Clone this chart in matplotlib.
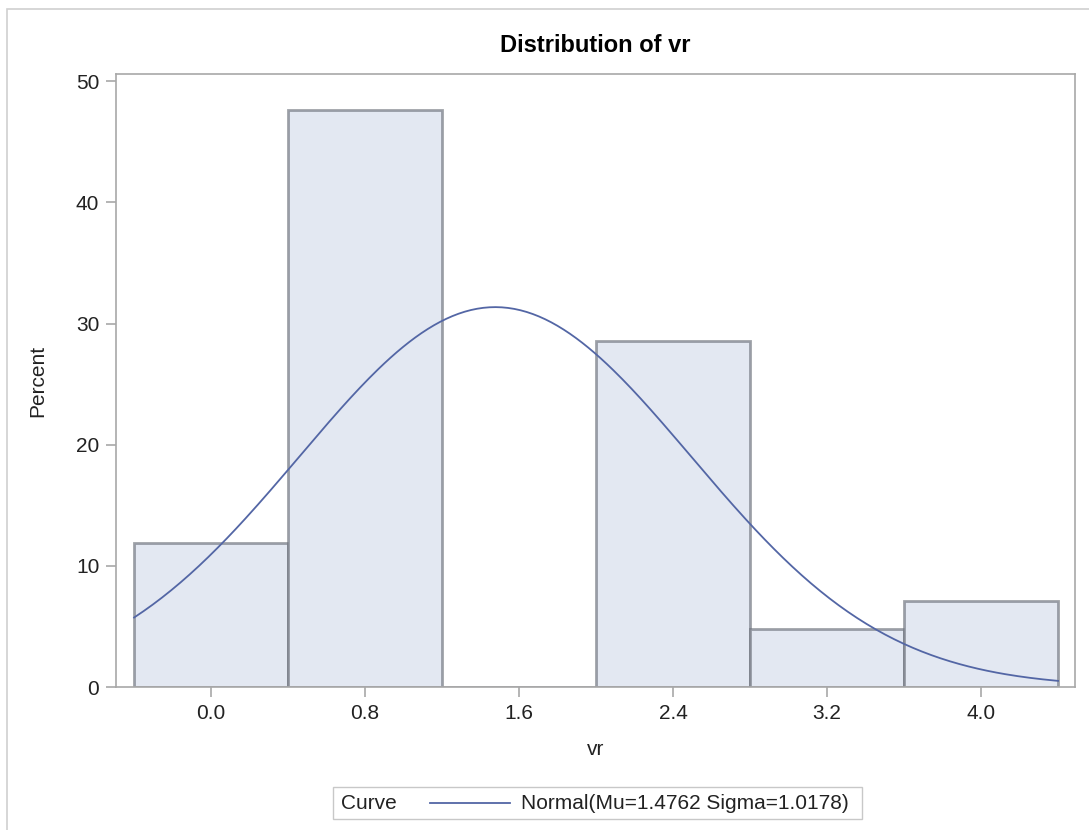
import numpy as np
import matplotlib.pyplot as plt
from matplotlib.patches import Rectangle
from matplotlib.lines import Line2D

plt.rcParams['font.family'] = ['Liberation Sans', 'DejaVu Sans']

# histogram of vr: bin midpoints and percent of observations
bin_mids = [0.0, 0.8, 1.6, 2.4, 3.2, 4.0]
percents = [11.90, 47.62, 0.0, 28.57, 4.76, 7.14]
bin_width = 0.8
mu = 1.4762
sigma = 1.0178
ticks = [0.0, 0.8, 1.6, 2.4, 3.2, 4.0]

W, H = 1089, 830
fig = plt.figure(figsize=(W / 100, H / 100), dpi=100)

# light frame (top and left edges visible)
fig.patches.append(Rectangle((7 / W, -0.2), 1.2, (H - 9) / H + 0.2, transform=fig.transFigure,
                             fill=False, edgecolor='#d0d0d0', linewidth=1.2))

ax = fig.add_axes([116 / W, (H - 687) / H, (1075 - 116) / W, (687 - 74) / H])

ax.bar(bin_mids, percents, width=bin_width, color='#e3e8f2',
       edgecolor=(0.42, 0.44, 0.48, 0.65), linewidth=2.0, zorder=2)

# fitted normal curve scaled to percent per bin
xs = np.linspace(bin_mids[0] - bin_width / 2, bin_mids[-1] + bin_width / 2, 300)
ys = 100 * bin_width * np.exp(-0.5 * ((xs - mu) / sigma) ** 2) / (sigma * np.sqrt(2 * np.pi))
ax.plot(xs, ys, color='#5366a5', linewidth=1.3, zorder=3)

ax.set_xlim(-0.494, 4.488)
ax.set_ylim(0, 50.6)
ax.set_xticks(ticks)
ax.set_xticklabels([f'{t:.1f}' for t in ticks])
ax.set_yticks([0, 10, 20, 30, 40, 50])
ax.tick_params(labelsize=15, color='#a8a8a8', length=7, width=1.2, pad=5, labelcolor='#222222')
for s in ax.spines.values():
    s.set_color('#a8a8a8')
    s.set_linewidth(1.2)

ax.set_xlabel('vr', fontsize=15, color='#222222')
ax.xaxis.set_label_coords(0.5, (687 - 749) / 613)
ax.xaxis.label.set_va('center')
ax.set_ylabel('Percent', fontsize=15, color='#222222')
ax.yaxis.set_label_coords((38 - 116) / 959, 0.5)
ax.yaxis.label.set_va('center')
ax.set_title('Distribution of vr', fontsize=17, fontweight='bold', pad=16)

# legend strip under the axes
ly = (H - 803) / H
fig.patches.append(Rectangle((333 / W, (H - 819) / H), (862 - 333) / W, 32 / H,
                             transform=fig.transFigure, fill=False,
                             edgecolor='#c8c8c8', linewidth=1))
fig.text(341 / W, ly, 'Curve', fontsize=15, va='center', color='#222222')
fig.lines.append(Line2D([430 / W, 510 / W], [ly, ly], transform=fig.transFigure,
                        color='#5366a5', linewidth=1.3))
fig.text(521 / W, ly, f'Normal(Mu={mu:.4f} Sigma={sigma:.4f})',
         fontsize=15, va='center', color='#222222')

fig.savefig('out.png', dpi=100)
